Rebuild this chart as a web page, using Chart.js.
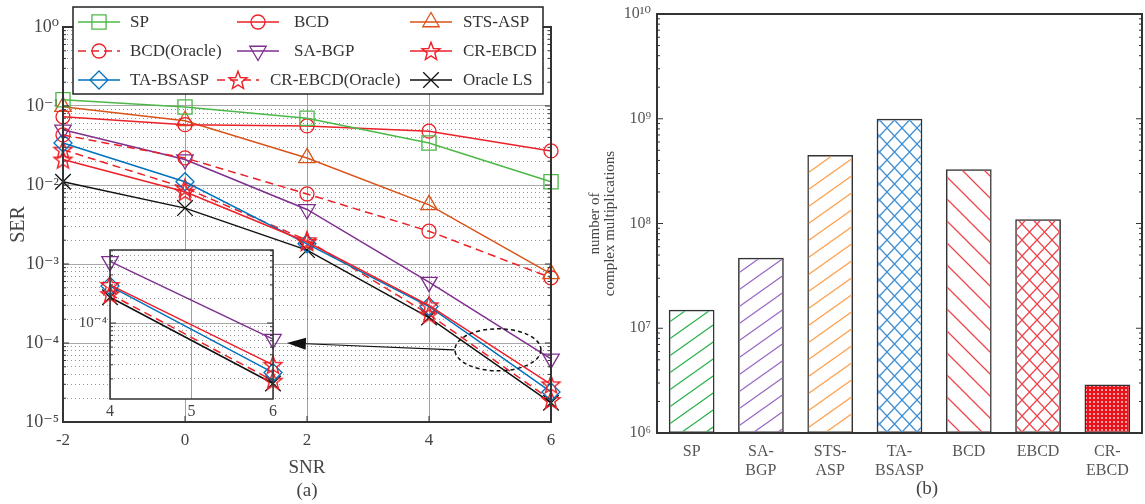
<!DOCTYPE html>
<html>
<head>
<meta charset="utf-8">
<script src="https://cdn.jsdelivr.net/npm/chart.js@4.4.1/dist/chart.umd.min.js"></script>
<style>
  html, body { margin: 0; padding: 0; background: #fff; }
  #wrap { position: relative; width: 1145px; height: 504px; overflow: hidden; }
  #serChart { position: absolute; left: 0; top: 0; }
  #zoomChart { position: absolute; left: 70px; top: 245px; }
  #costChart { position: absolute; left: 572px; top: 0; }
</style>
</head>
<body>
<div id="wrap">
  <canvas id="serChart" width="572" height="504"></canvas>
  <canvas id="zoomChart" width="215" height="180"></canvas>
  <canvas id="costChart" width="573" height="504"></canvas>
</div>
<script>
Chart.defaults.font.family = "'Liberation Serif', 'DejaVu Serif', serif";
Chart.defaults.color = '#4a4a4a';
Chart.defaults.animation = false;
Chart.defaults.responsive = false;

/* ---- (a) SER vs SNR ---- */
const snr = [-2, 0, 2, 4, 6];
const serSP = [0.12, 0.097, 0.070, 0.034, 0.011];
const serBCD = [0.073, 0.058, 0.056, 0.048, 0.027];
const serSTSASP = [0.098, 0.065, 0.022, 0.0056, 7.5e-4];
const serBCDOracle = [0.043, 0.022, 0.0077, 0.0026, 6.7e-4];
const serSABGP = [0.050, 0.021, 0.0049, 5.9e-4, 6.3e-5];
const serCREBCD = [0.021, 0.0082, 0.0019, 3.0e-4, 3.0e-5];
const serTABSASP = [0.034, 0.011, 0.0018, 2.9e-4, 2.4e-5];
const serCREBCDOracle = [0.028, 0.0092, 0.0020, 2.3e-4, 1.9e-5];
const serOracleLS = [0.011, 0.0051, 0.0015, 2.1e-4, 1.75e-5];

// inset shows the last two SNR points
const zoomIdx = [3, 4];
const zoomTicks = [4, 5, 6];

/* ---- (b) complexity ---- */
const methods = [['SP'], ['SA-', 'BGP'], ['STS-', 'ASP'], ['TA-', 'BSASP'], ['BCD'], ['EBCD'], ['CR-', 'EBCD']];
const mults = [1.5e7, 4.7e7, 4.5e8, 1.0e9, 3.3e8, 1.1e8, 2.9e6];

const supMap = {'-': '⁻', '0': '⁰', '1': '¹', '2': '²', '3': '³', '4': '⁴', '5': '⁵', '6': '⁶', '7': '⁷', '8': '⁸', '9': '⁹'};
const isPow10 = v => Math.abs(Math.log10(v) - Math.round(Math.log10(v))) < 1e-6;
const powLabel = v => '10' + String(Math.round(Math.log10(v))).split('').map(c => supMap[c]).join('');

function logGrid(lo, hi) {
  const out = [];
  for (let e = lo; e < hi; e++) {
    for (let m = 1; m < 10; m++) out.push(+(m * Math.pow(10, e)).toPrecision(3));
  }
  out.push(Math.pow(10, hi));
  return out;
}

function makeStar(color) {
  const c = document.createElement('canvas');
  c.width = c.height = 22;
  const g = c.getContext('2d');
  g.strokeStyle = color; g.lineWidth = 1.4;
  g.beginPath();
  for (let i = 0; i < 10; i++) {
    const r = i % 2 ? 4 : 9.5;
    const a = -Math.PI / 2 + i * Math.PI / 5;
    const px = 11 + r * Math.cos(a), py = 11.8 + r * Math.sin(a);
    if (i) g.lineTo(px, py); else g.moveTo(px, py);
  }
  g.closePath(); g.stroke();
  return c;
}
const starImg = makeStar('#ec2027');

const serSeries = [
  {label: 'SP', data: serSP, color: '#4cb847', marker: 'rect', radius: 10},
  {label: 'BCD', data: serBCD, color: '#ec2027', marker: 'circle', radius: 7},
  {label: 'STS-ASP', data: serSTSASP, color: '#d95319', marker: 'triangle', radius: 9.5},
  {label: 'BCD(Oracle)', data: serBCDOracle, color: '#ec2027', marker: 'circle', radius: 7, dash: [8, 5]},
  {label: 'SA-BGP', data: serSABGP, color: '#7e2f8e', marker: 'triangle', radius: 9.5, rot: 180},
  {label: 'CR-EBCD', data: serCREBCD, color: '#ec2027', marker: starImg, radius: 9},
  {label: 'TA-BSASP', data: serTABSASP, color: '#0072bd', marker: 'rectRot', radius: 9},
  {label: 'CR-EBCD(Oracle)', data: serCREBCDOracle, color: '#ec2027', marker: starImg, radius: 9, dash: [8, 5]},
  {label: 'Oracle LS', data: serOracleLS, color: '#111111', marker: 'crossRot', radius: 11}
];

// legend entry placement: line start, row centre, text offset
const legendSlots = [
  {x: 78, y: 22, tx: 52}, {x: 237, y: 22, tx: 57}, {x: 410, y: 22, tx: 53},
  {x: 78, y: 51, tx: 52}, {x: 237, y: 51, tx: 57}, {x: 410, y: 51, tx: 53},
  {x: 78, y: 80, tx: 52}, {x: 217, y: 80, tx: 53}, {x: 410, y: 80, tx: 53}
];

function lineSet(s, idx) {
  return {
    label: s.label,
    data: idx.map(i => ({x: snr[i], y: s.data[i]})),
    borderColor: s.color,
    borderWidth: 1.5,
    borderDash: s.dash || [],
    pointStyle: s.marker,
    pointRadius: s.radius,
    pointRotation: s.rot || 0,
    pointBorderColor: s.color,
    pointBackgroundColor: 'rgba(0,0,0,0)',
    pointBorderWidth: 1.3,
    tension: 0,
    clip: false
  };
}

/* frame + inward ticks */
const frame = {
  id: 'frame',
  afterDatasetsDraw(chart, args, opts) {
    const {ctx, chartArea: a} = chart;
    ctx.save();
    ctx.strokeStyle = '#333';
    ctx.lineWidth = 1;
    ctx.beginPath();
    const y = chart.scales.y;
    y.ticks.forEach(t => {
      const py = y.getPixelForValue(t.value);
      const len = isPow10(t.value) ? 6 : 3;
      ctx.moveTo(a.left, py); ctx.lineTo(a.left + len, py);
      ctx.moveTo(a.right, py); ctx.lineTo(a.right - len, py);
    });
    if (opts.xTicks) {
      const x = chart.scales.x;
      x.ticks.forEach(t => {
        const px = x.getPixelForValue(t.value);
        ctx.moveTo(px, a.bottom); ctx.lineTo(px, a.bottom - 6);
        ctx.moveTo(px, a.top); ctx.lineTo(px, a.top + 6);
      });
    }
    ctx.stroke();
    ctx.lineWidth = opts.width || 2;
    ctx.strokeRect(a.left, a.top, a.right - a.left, a.bottom - a.top);
    ctx.restore();
  }
};

const boxLegend = {
  id: 'boxLegend',
  afterDraw(chart) {
    const {ctx} = chart;
    ctx.save();
    ctx.fillStyle = '#fff';
    ctx.fillRect(73, 7, 470, 87);
    ctx.strokeStyle = '#222';
    ctx.lineWidth = 1.5;
    ctx.strokeRect(73, 7, 470, 87);
    chart.data.datasets.forEach((ds, i) => {
      const slot = legendSlots[i];
      ctx.strokeStyle = ds.borderColor;
      ctx.lineWidth = ds.borderWidth;
      ctx.setLineDash(ds.borderDash);
      ctx.beginPath();
      ctx.moveTo(slot.x, slot.y); ctx.lineTo(slot.x + 42, slot.y);
      ctx.stroke();
      ctx.setLineDash([]);
      ctx.fillStyle = 'rgba(0,0,0,0)';
      ctx.lineWidth = ds.pointBorderWidth;
      Chart.helpers.drawPoint(ctx, {
        pointStyle: ds.pointStyle, radius: ds.pointRadius,
        rotation: ds.pointRotation, borderWidth: ds.pointBorderWidth
      }, slot.x + 21, slot.y);
      ctx.fillStyle = '#333';
      ctx.font = "17px 'Liberation Serif'";
      ctx.textBaseline = 'middle';
      ctx.fillText(ds.label, slot.x + slot.tx, slot.y + 1);
    });
    ctx.restore();
  }
};

// dashed ellipse round the zoomed region and arrow pointing to the inset
const zoomSpot = {snr: 5.13, ser: 8.2e-5};
const arrowTail = {snr: 4.42, ser: 8.2e-5};
const arrowTip = {snr: 1.67, ser: 1.0e-4};
const zoomMark = {
  id: 'zoomMark',
  afterDatasetsDraw(chart) {
    const {ctx} = chart;
    const x = chart.scales.x, y = chart.scales.y;
    ctx.save();
    ctx.strokeStyle = '#111';
    ctx.lineWidth = 1.5;
    ctx.setLineDash([4, 3]);
    ctx.beginPath();
    ctx.ellipse(x.getPixelForValue(zoomSpot.snr), y.getPixelForValue(zoomSpot.ser), 43, 21, 0, 0, Math.PI * 2);
    ctx.stroke();
    ctx.setLineDash([]);
    const x0 = x.getPixelForValue(arrowTail.snr), y0 = y.getPixelForValue(arrowTail.ser);
    const x1 = x.getPixelForValue(arrowTip.snr), y1 = y.getPixelForValue(arrowTip.ser);
    const ang = Math.atan2(y1 - y0, x1 - x0);
    const hl = 19, hw = 6;
    const bx = x1 - hl * Math.cos(ang), by = y1 - hl * Math.sin(ang);
    ctx.lineWidth = 1.2;
    ctx.beginPath(); ctx.moveTo(x0, y0); ctx.lineTo(bx, by); ctx.stroke();
    ctx.fillStyle = '#111';
    ctx.beginPath();
    ctx.moveTo(x1, y1);
    ctx.lineTo(bx + hw * Math.sin(ang), by - hw * Math.cos(ang));
    ctx.lineTo(bx - hw * Math.sin(ang), by + hw * Math.cos(ang));
    ctx.closePath(); ctx.fill();
    ctx.restore();
  }
};

const gridColor = c => (c.tick && !isPow10(c.tick.value)) ? 'rgba(60,60,60,0.55)' : '#a8a8a8';
const gridDash = c => (c.tick && !isPow10(c.tick.value)) ? [1, 3] : [];
const noOverflow = s => { s.paddingTop = 0; s.paddingBottom = 0; };

new Chart(document.getElementById('serChart'), {
  type: 'line',
  data: {datasets: serSeries.map(s => lineSet(s, snr.map((_, i) => i)))},
  options: {
    layout: {autoPadding: false, padding: {left: 0, right: 21, top: 27, bottom: 0}},
    plugins: {legend: {display: false}, tooltip: {enabled: false}, frame: {xTicks: true, width: 2}},
    scales: {
      x: {
        type: 'linear', min: -2, max: 6,
        afterBuildTicks: s => { s.ticks = snr.map(v => ({value: v})); },
        afterFit: s => { s.height = 82; },
        grid: {color: '#a0a0a0', drawTicks: false},
        border: {display: false},
        ticks: {padding: 8, font: {size: 17}, color: '#444'},
        title: {display: true, text: ['SNR', '(a)'], font: {size: 19}, color: '#444', padding: {top: 0, bottom: 2}}
      },
      y: {
        type: 'logarithmic', min: 1e-5, max: 1,
        afterBuildTicks: s => { s.ticks = logGrid(-5, 0).map(v => ({value: v})); },
        afterFit: s => { s.width = 63; noOverflow(s); },
        grid: {color: gridColor, drawTicks: false},
        border: {display: false, dash: gridDash},
        ticks: {autoSkip: false, padding: 4, font: {size: 18}, color: '#444', callback: v => isPow10(v) ? powLabel(v) : ''},
        title: {display: true, text: 'SER', font: {size: 20}, color: '#444', padding: {top: 7, bottom: 0}}
      }
    }
  },
  plugins: [frame, zoomMark, boxLegend]
});

/* inset */
const insetBg = {
  id: 'insetBg',
  beforeDraw(chart) {
    const {ctx, chartArea: a} = chart;
    ctx.save();
    ctx.fillStyle = '#fff';
    ctx.fillRect(a.left, a.top, a.right - a.left, a.bottom - a.top);
    ctx.restore();
  }
};

new Chart(document.getElementById('zoomChart'), {
  type: 'line',
  data: {datasets: serSeries.slice(4).map(s => lineSet(s, zoomIdx))},
  options: {
    layout: {autoPadding: false, padding: {left: 0, right: 12, top: 5, bottom: 0}},
    plugins: {legend: {display: false}, tooltip: {enabled: false}, frame: {width: 1.5}},
    scales: {
      x: {
        type: 'linear', min: 4, max: 6,
        afterBuildTicks: s => { s.ticks = zoomTicks.map(v => ({value: v})); },
        afterFit: s => { s.height = 26; },
        grid: {color: '#a0a0a0', drawTicks: false},
        border: {display: false},
        ticks: {padding: 3, font: {size: 16}, color: '#444'}
      },
      y: {
        type: 'logarithmic', min: 1.12e-5, max: 8.2e-4,
        afterBuildTicks: s => { s.ticks = logGrid(-5, -3).filter(v => v > 1.12e-5 && v < 8.2e-4).map(v => ({value: v})); },
        afterFit: s => { s.width = 40; noOverflow(s); },
        grid: {color: gridColor, drawTicks: false},
        border: {display: false, dash: gridDash},
        ticks: {autoSkip: false, padding: 3, font: {size: 15}, color: '#444', callback: v => isPow10(v) ? powLabel(v) : ''}
      }
    }
  },
  plugins: [insetBg, frame]
});

/* ---- (b) bars with hatch fills ---- */
const hatchColors = ['#2eb34f', '#9a6bc5', '#ffa04a', '#3d8ed6', '#f2444c', '#f2444c', '#e8121a'];
const hatchKinds = ['fwd', 'fwd', 'fwd', 'cross', 'back', 'cross', 'dense'];

function hatchFill(kind, color) {
  const t = document.createElement('canvas');
  const g = t.getContext('2d');
  if (kind === 'dense') {
    t.width = t.height = 4;
    g.fillStyle = color; g.fillRect(0, 0, 4, 4);
    g.fillStyle = 'rgba(255,255,255,0.6)'; g.fillRect(1, 1, 2, 2);
    return g.createPattern(t, 'repeat');
  }
  const w = kind === 'fwd' ? 24 : (kind === 'back' ? 22 : 15);
  const h = kind === 'fwd' ? 17 : (kind === 'back' ? 22 : 16);
  t.width = w; t.height = h;
  g.strokeStyle = color; g.lineWidth = 1.3;
  g.beginPath();
  for (const k of [-1, 0, 1]) {
    if (kind === 'fwd' || kind === 'cross') {
      g.moveTo(-1, h + k * h + h / w); g.lineTo(w + 1, k * h - h / w);
    }
    if (kind === 'back' || kind === 'cross') {
      g.moveTo(-1, k * h - h / w); g.lineTo(w + 1, h + k * h + h / w);
    }
  }
  g.stroke();
  return g.createPattern(t, 'repeat');
}

const panelTag = {
  id: 'panelTag',
  afterDraw(chart) {
    const {ctx, chartArea: a} = chart;
    ctx.save();
    ctx.fillStyle = '#444';
    ctx.font = "19px 'Liberation Serif'";
    ctx.textAlign = 'center';
    ctx.textBaseline = 'middle';
    ctx.fillText('(b)', a.left + 270, 489);
    ctx.restore();
  }
};

new Chart(document.getElementById('costChart'), {
  type: 'bar',
  data: {
    labels: methods,
    datasets: [{
      data: mults,
      backgroundColor: hatchKinds.map((k, i) => hatchFill(k, hatchColors[i])),
      borderColor: '#333',
      borderWidth: 1.5,
      borderSkipped: false,
      barPercentage: 0.66,
      categoryPercentage: 1
    }]
  },
  options: {
    layout: {padding: {left: 0, right: 3, top: 14, bottom: 0}},
    plugins: {legend: {display: false}, tooltip: {enabled: false}, frame: {width: 2}},
    scales: {
      x: {
        grid: {display: false, drawTicks: false},
        border: {display: false},
        afterFit: s => { s.height = 71; },
        ticks: {padding: 9, font: {size: 16, lineHeight: 1.2}, color: '#555', maxRotation: 0, autoSkip: false}
      },
      y: {
        type: 'logarithmic', min: 1e6, max: 1e10,
        afterBuildTicks: s => { s.ticks = logGrid(6, 10).map(v => ({value: v})); },
        afterFit: s => { s.width = 85; noOverflow(s); },
        grid: {display: false, drawTicks: false},
        border: {display: false},
        ticks: {autoSkip: false, padding: 6, font: {size: 16}, color: '#555', callback: v => isPow10(v) ? powLabel(v) : ''},
        title: {display: true, text: ['number of', 'complex multiplications'], font: {size: 15, lineHeight: 1.0}, color: '#444', padding: {top: 16, bottom: 0}}
      }
    }
  },
  plugins: [frame, panelTag]
});
</script>
</body>
</html>
